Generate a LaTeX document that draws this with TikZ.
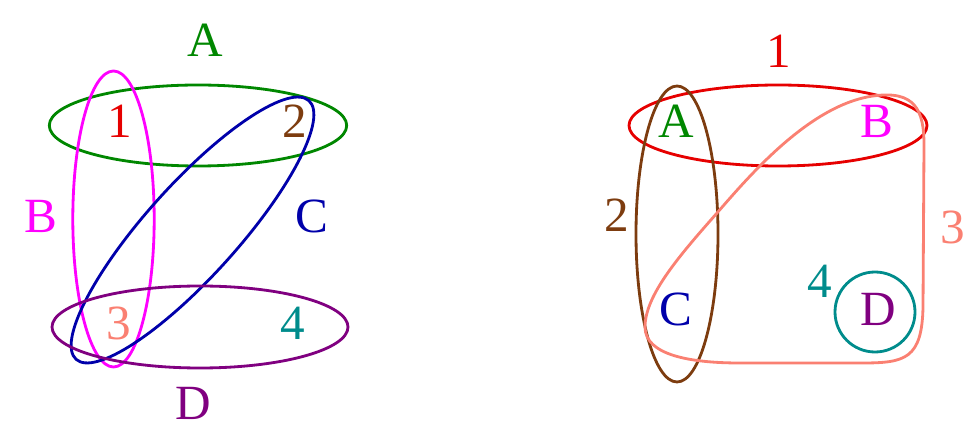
\documentclass[tikz,border=0pt]{standalone}
\usepackage{fontspec}
\setmainfont{Liberation Serif}
\newfontfamily\lblfont{Liberation Serif}
\usetikzlibrary{positioning}
\definecolor{hgreen}{RGB}{0,135,0}
\definecolor{hmagenta}{RGB}{255,0,255}
\definecolor{hnavy}{RGB}{0,0,170}
\definecolor{hpurple}{RGB}{128,0,128}
\definecolor{hred}{RGB}{230,0,0}
\definecolor{hbrown}{RGB}{125,60,15}
\definecolor{hsalmon}{RGB}{250,128,114}
\definecolor{hteal}{RGB}{0,140,140}
\tikzset{
	hedge/.style={line width=1.6pt},
	every node/.style={font=\lblfont\fontsize{28}{34}\selectfont,inner sep=0pt},
}

\begin{document}
\begin{tikzpicture}[x=0.2mm,y=0.2mm]
			\useasboundingbox (0,0) rectangle (977,435);
			
			%left hypergraph, edges.....................
			\draw [hedge,hgreen] (198,309.5) ellipse [x radius=148.7, y radius=40.5];
			\draw [hedge,hmagenta] (113.5,216) ellipse [x radius=40.7, y radius=148];
			\draw [hedge,hnavy,rotate around={48:(192.5,205)}] (192.5,205) ellipse [x radius=174, y radius=46];
			\draw [hedge,hpurple] (200,108) ellipse [x radius=148, y radius=41];
			
			%left hypergraph, vertices......................
			\node [hred] (v1) at (119.5,313.5) {1};
			\node [hbrown] (v2) at (294.5,313.5) {2};
			\node [hsalmon] (v3) at (118.5,111.5) {3};
			\node [hteal] (v4) at (293,112) {4};
			
			%left hypergraph, edge labels...................
			\node [hgreen] (eA) at (205,395) {A};
			\node [hmagenta] (eB) at (41,219) {B};
			\node [hnavy] (eC) at (312,219) {C};
			\node [hpurple] (eD) at (193,32) {D};
			
			%right hypergraph (dual), edges....................
			\draw [hedge,hred] (778,309.5) ellipse [x radius=149, y radius=40.5];
			\draw [hedge,hbrown] (677,201) ellipse [x radius=41, y radius=148];
			\draw [hedge,hteal] (875,123) circle [radius=40];
			\draw [hedge,hsalmon] (645,108) .. controls (645,140) and (680,180) .. (717,222)
				.. controls (750,260) and (810,330) .. (873,339)
				.. controls (915,345) and (924,325) .. (924,290)
				-- (923,128) .. controls (922,76) and (905,72) .. (862,72)
				-- (740,72) .. controls (690,72) and (645,80) .. cycle;
			
			%right hypergraph, vertices.........................
			\node [hgreen] (dA) at (676.5,313.5) {A};
			\node [hmagenta] (dB) at (877,313.5) {B};
			\node [hnavy] (dC) at (676,125.5) {C};
			\node [hpurple] (dD) at (878.5,125.5) {D};
			
			%right hypergraph, edge labels......................
			\node [hred] (d1) at (779,383.5) {1};
			\node [hbrown] (d2) at (617,219.5) {2};
			\node [hsalmon] (d3) at (952.5,207.5) {3};
			\node [hteal] (d4) at (819.5,153.5) {4};
		\end{tikzpicture}
\end{document}
